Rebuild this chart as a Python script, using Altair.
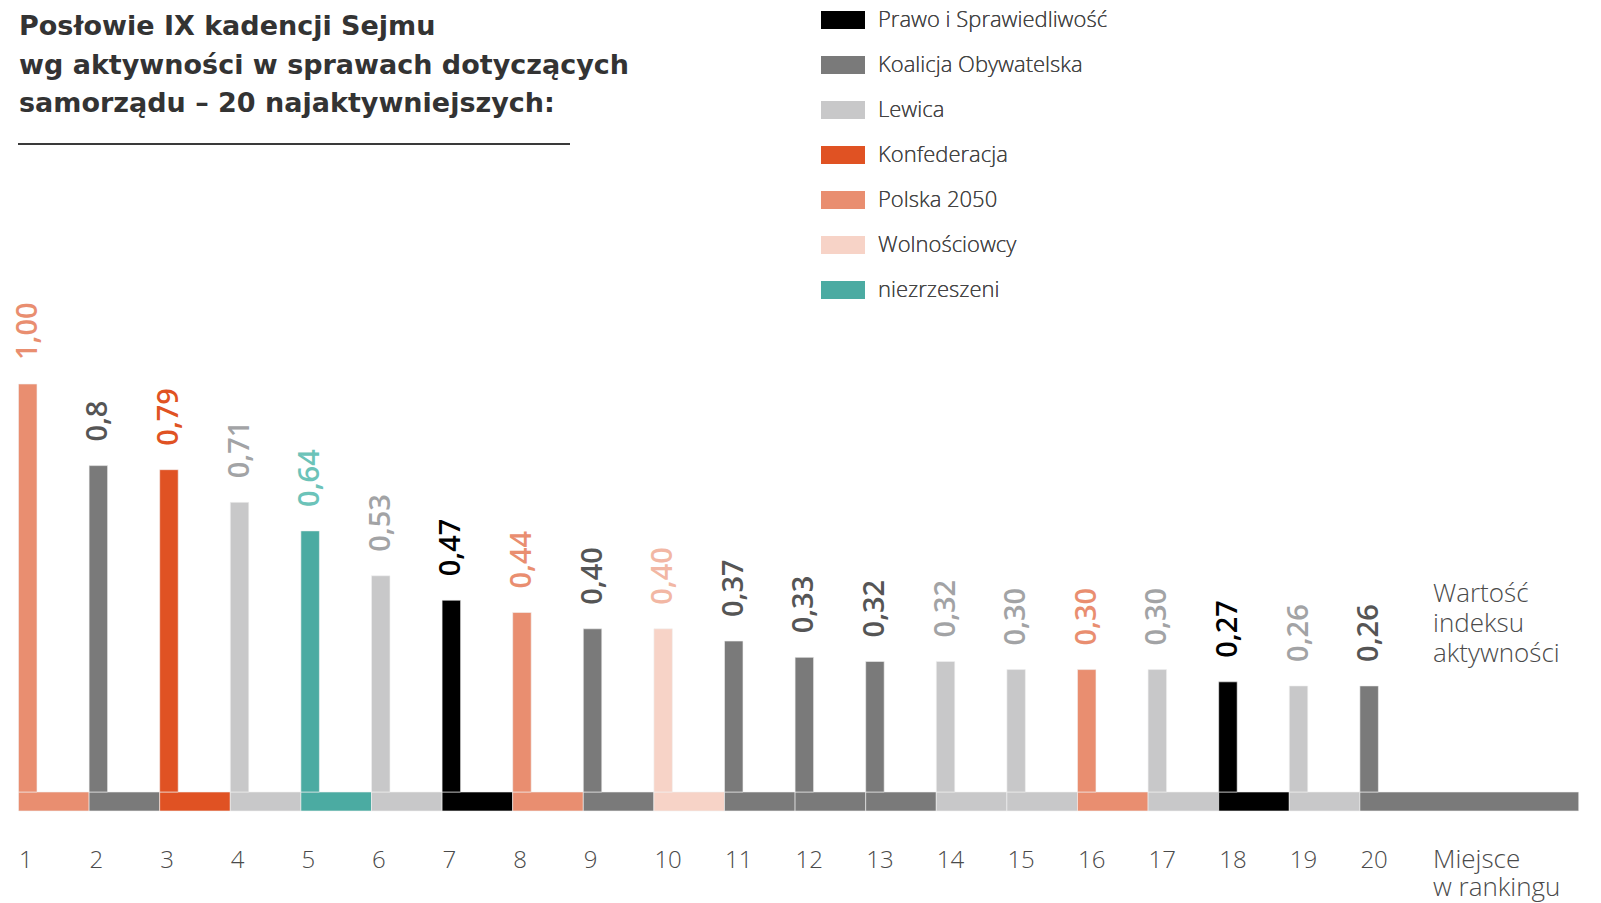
import altair as alt
import pandas as pd

# ---- data ----
ranks = list(range(1, 21))
values = [1.00, 0.80, 0.79, 0.71, 0.64, 0.53, 0.47, 0.44, 0.40, 0.40,
          0.37, 0.33, 0.32, 0.32, 0.30, 0.30, 0.30, 0.27, 0.26, 0.26]
value_labels = ["1,00", "0,8", "0,79", "0,71", "0,64", "0,53", "0,47", "0,44", "0,40", "0,40",
                "0,37", "0,33", "0,32", "0,32", "0,30", "0,30", "0,30", "0,27", "0,26", "0,26"]
parties = ["Polska 2050", "Koalicja Obywatelska", "Konfederacja", "Lewica", "niezrzeszeni",
           "Lewica", "Prawo i Sprawiedliwość", "Polska 2050", "Koalicja Obywatelska", "Wolnościowcy",
           "Koalicja Obywatelska", "Koalicja Obywatelska", "Koalicja Obywatelska", "Lewica", "Lewica",
           "Polska 2050", "Lewica", "Prawo i Sprawiedliwość", "Lewica", "Koalicja Obywatelska"]

party_names = ["Prawo i Sprawiedliwość", "Koalicja Obywatelska", "Lewica", "Konfederacja",
               "Polska 2050", "Wolnościowcy", "niezrzeszeni"]
party_colors = ["#000000", "#7a7a7a", "#c8c8c9", "#e05223", "#e98e70", "#f7d3c7", "#4babA2"]
label_colors = ["#000000", "#555555", "#a2a3a5", "#e05223", "#e98e70", "#f2b7a4", "#6cc3b9"]

title_lines = ["Posłowie IX kadencji Sejmu",
               "wg aktywności w sprawach dotyczących",
               "samorządu – 20 najaktywniejszych:"]
y_title_lines = ["Wartość", "indeksu", "aktywności"]
x_title_lines = ["Miejsce", "w rankingu"]

FONT = "Open Sans"
TEXT_GRAY = "#4a4a4a"

df = pd.DataFrame({"rank": ranks, "value": values, "label": value_labels, "party": parties})

x_scale = alt.Scale(domain=[-0.1487, 22.302], nice=False, zero=False)
y_scale = alt.Scale(domain=[-0.0466, 1.9216], nice=False, zero=False)
color_scale = alt.Scale(domain=party_names, range=party_colors)
label_scale = alt.Scale(domain=party_names, range=label_colors)

x_axis = alt.Axis(values=[r - 1 for r in ranks], labelExpr="datum.value + 1",
                  domain=False, ticks=False, tickSize=0, grid=False,
                  labelAlign="left", labelBaseline="alphabetic", labelPadding=56,
                  labelFont=FONT, labelFontSize=24, labelFontWeight=300,
                  labelColor=TEXT_GRAY, labelFlush=False, labelOverlap=False,
                  title=None)

legend = alt.Legend(
    orient="none", legendX=813, legendY=-10, title=None,
    symbolType="M-1,-0.41H1V0.41H-1Z", symbolSize=1936, symbolStrokeWidth=0,
    symbolOpacity=1, labelFont=FONT, labelFontSize=22, labelFontWeight=300,
    labelColor="#444444", labelOffset=13, rowPadding=12, padding=0,
    labelLimit=400,
)

base = alt.Chart(df)

strip = base.transform_calculate(
    x0="datum.rank - 1",
    x1="datum.rank == 20 ? 22.1 : datum.rank",
).mark_rect(stroke="#f2f2f2", strokeWidth=0.6).encode(
    x=alt.X("x0:Q", scale=x_scale, axis=x_axis),
    x2="x1:Q",
    y=alt.Y(datum=0, scale=y_scale, axis=None),
    y2=alt.Y2(datum=-0.0466),
    color=alt.Color("party:N", scale=color_scale, legend=legend),
)

bars = base.transform_calculate(
    x0="datum.rank - 1",
    bx1="datum.rank - 1 + 0.262",
).mark_rect(stroke="#f2f2f2", strokeWidth=0.6).encode(
    x=alt.X("x0:Q", scale=x_scale, axis=x_axis),
    x2="bx1:Q",
    y=alt.Y("value:Q", scale=y_scale, axis=None),
    y2=alt.Y2(datum=0),
    color=alt.Color("party:N", scale=color_scale, legend=legend),
)

labels = base.transform_calculate(
    x0="datum.rank - 1 + 0.131",
).mark_text(angle=270, align="left", baseline="middle", dx=24,
            font=FONT, fontSize=29, fontWeight=600).encode(
    x=alt.X("x0:Q", scale=x_scale, axis=x_axis),
    y=alt.Y("value:Q", scale=y_scale, axis=None),
    text="label:N",
    color=alt.Color("party:N", scale=label_scale, legend=None),
)

one = pd.DataFrame({"k": [0]})

title = alt.Chart(one).mark_text(
    align="left", baseline="alphabetic", font="DejaVu Sans", fontSize=27, fontWeight=700,
    color="#333333", lineHeight=38.5,
).encode(x=alt.value(11), y=alt.value(27), text=alt.value(title_lines))

underline = alt.Chart(one).mark_rule(color="#3a3a3a", strokeWidth=2).encode(
    x=alt.value(10), x2=alt.value(562), y=alt.value(136)
)

ytitle = alt.Chart(one).mark_text(
    align="left", baseline="alphabetic", font=FONT, fontSize=26, fontWeight=300,
    color=TEXT_GRAY, lineHeight=30,
).encode(x=alt.value(1425), y=alt.value(594), text=alt.value(y_title_lines))

xtitle = alt.Chart(one).mark_text(
    align="left", baseline="alphabetic", font=FONT, fontSize=26, fontWeight=300,
    color=TEXT_GRAY, lineHeight=28,
).encode(x=alt.value(1425), y=alt.value(860), text=alt.value(x_title_lines))

chart = alt.layer(strip, bars, labels, title, underline, ytitle, xtitle).resolve_scale(
    color="independent"
).properties(
    width=1585, height=803,
    background="white",
    autosize=alt.AutoSizeParams(type="none"),
    padding={"left": 0, "top": 0, "right": 0, "bottom": 92},
).configure_view(stroke=None)

chart.save("out.html", embed_options={"renderer": "svg", "actions": False})
